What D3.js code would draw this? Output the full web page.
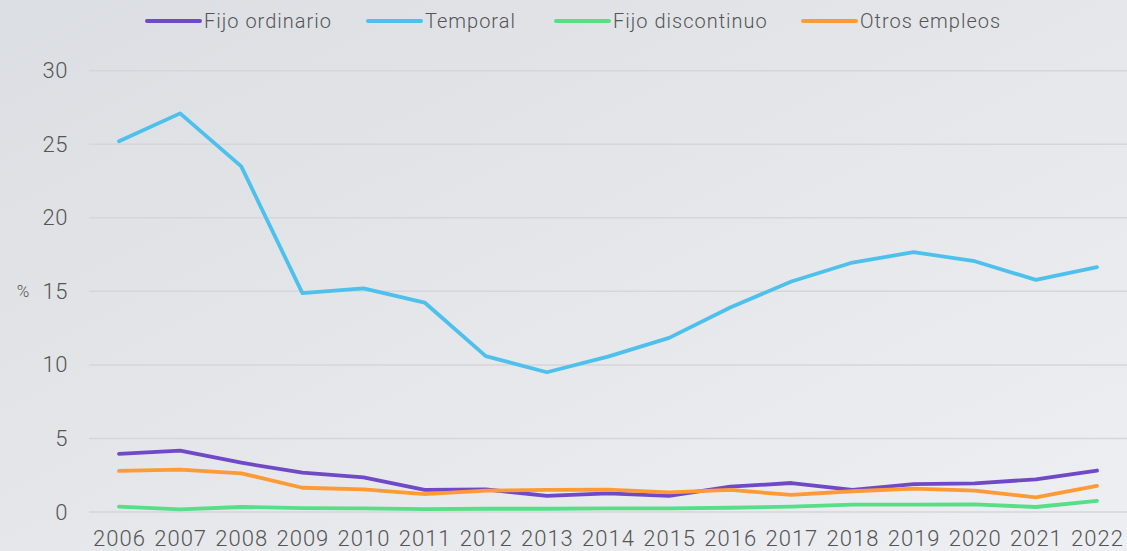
<!DOCTYPE html>
<html>
<head>
<meta charset="utf-8">
<script src="https://cdn.jsdelivr.net/npm/d3@7"></script>
<style>
  html, body { margin: 0; padding: 0; }
  body { width: 1127px; height: 551px; overflow: hidden; }
  svg { display: block; font-family: Roboto, sans-serif; }
</style>
</head>
<body>
<div id="chart"></div>
<script>
// Data
const years = [2006, 2007, 2008, 2009, 2010, 2011, 2012, 2013, 2014, 2015, 2016, 2017, 2018, 2019, 2020, 2021, 2022];
const fijoOrdinario = [3.95, 4.17, 3.35, 2.67, 2.36, 1.5, 1.54, 1.09, 1.27, 1.1, 1.72, 1.97, 1.5, 1.9, 1.95, 2.22, 2.82];
const temporal = [25.2, 27.1, 23.5, 14.88, 15.2, 14.24, 10.6, 9.5, 10.56, 11.84, 13.9, 15.67, 16.96, 17.66, 17.05, 15.78, 16.65];
const fijoDiscontinuo = [0.36, 0.18, 0.34, 0.27, 0.25, 0.2, 0.22, 0.22, 0.25, 0.25, 0.29, 0.36, 0.5, 0.5, 0.52, 0.34, 0.75];
const otrosEmpleos = [2.79, 2.88, 2.63, 1.65, 1.54, 1.22, 1.45, 1.5, 1.52, 1.34, 1.5, 1.16, 1.41, 1.59, 1.45, 1.0, 1.77];
const yTicks = [0, 5, 10, 15, 20, 25, 30];

const seriesNames = ["Fijo ordinario", "Temporal", "Fijo discontinuo", "Otros empleos"];
const seriesValues = [fijoOrdinario, temporal, fijoDiscontinuo, otrosEmpleos];
const colors = ["#7049c6", "#4ec0ec", "#56de88", "#ff9a35"];

const W = 1127, H = 551;
const svg = d3.select("#chart").append("svg")
    .attr("width", W)
    .attr("height", H);

// background gradient
const defs = svg.append("defs");
const grad = defs.append("linearGradient")
    .attr("id", "bg")
    .attr("x1", "0%").attr("y1", "0%")
    .attr("x2", "100%").attr("y2", "100%");
grad.append("stop").attr("offset", "0%").attr("stop-color", "#dbdee2");
grad.append("stop").attr("offset", "100%").attr("stop-color", "#eeeff2");
svg.append("rect").attr("width", W).attr("height", H).attr("fill", "url(#bg)");

// scales
const x = d3.scalePoint()
    .domain(years)
    .range([119, 1097]);
const y = d3.scaleLinear()
    .domain([0, 30])
    .range([512, 70.7]);

// grid lines
svg.append("g")
    .selectAll("line")
    .data(yTicks)
    .join("line")
    .attr("x1", 89)
    .attr("x2", W)
    .attr("y1", d => y(d))
    .attr("y2", d => y(d))
    .attr("stroke", "#d4d6da")
    .attr("stroke-width", 1.5);

// y axis
const yAxis = svg.append("g")
    .attr("transform", "translate(68,0)")
    .call(d3.axisLeft(y).tickValues(yTicks).tickSize(0).tickPadding(0));
yAxis.select(".domain").remove();
yAxis.selectAll("text")
    .attr("font-family", "Roboto, sans-serif")
    .attr("font-weight", 300)
    .attr("font-size", 22)
    .attr("letter-spacing", "0.5px")
    .attr("fill", "#555");

svg.append("text")
    .attr("x", 23)
    .attr("y", y(15))
    .attr("dy", "0.35em")
    .attr("text-anchor", "middle")
    .attr("font-weight", 300)
    .attr("font-size", 17)
    .attr("fill", "#555")
    .text("%");

// x axis
const xAxis = svg.append("g")
    .attr("transform", "translate(0,530)")
    .call(d3.axisBottom(x).tickSize(0).tickPadding(0));
xAxis.select(".domain").remove();
xAxis.selectAll("text")
    .attr("font-family", "Roboto, sans-serif")
    .attr("font-weight", 300)
    .attr("font-size", 22)
    .attr("letter-spacing", "1px")
    .attr("fill", "#555");

// lines
const line = d3.line()
    .x((d, i) => x(years[i]))
    .y(d => y(d));

svg.append("g")
    .selectAll("path")
    .data(seriesValues)
    .join("path")
    .attr("fill", "none")
    .attr("stroke", (d, i) => colors[i])
    .attr("stroke-width", 3.8)
    .attr("stroke-linejoin", "round")
    .attr("stroke-linecap", "round")
    .attr("d", line);

// legend
const legendX = [147, 368, 556, 803];
const legend = svg.append("g")
    .selectAll("g")
    .data(seriesNames)
    .join("g")
    .attr("transform", (d, i) => `translate(${legendX[i]},21)`);
legend.append("line")
    .attr("x1", 0).attr("x2", 53)
    .attr("stroke", (d, i) => colors[i])
    .attr("stroke-width", 4)
    .attr("stroke-linecap", "round");
legend.append("text")
    .attr("x", 57)
    .attr("dy", "0.35em")
    .attr("font-weight", 300)
    .attr("font-size", 20)
    .attr("letter-spacing", "1px")
    .attr("fill", "#555")
    .text(d => d);
</script>
</body>
</html>
